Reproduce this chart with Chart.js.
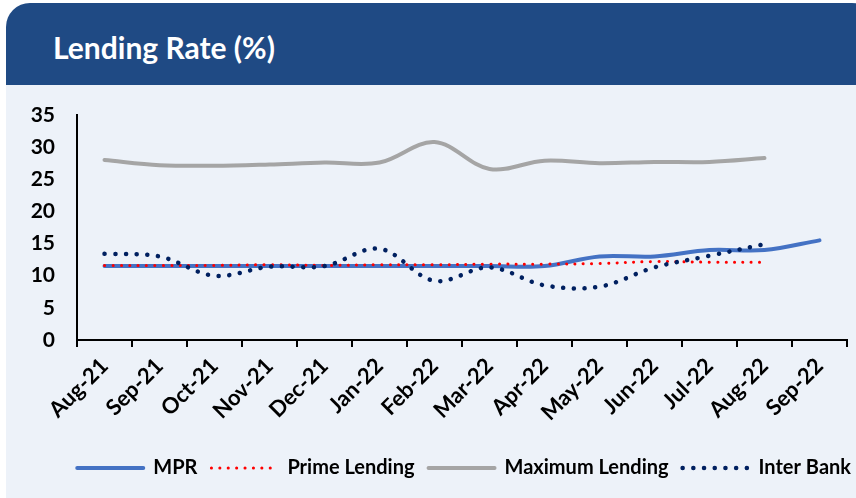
<!DOCTYPE html>
<html>
<head>
<meta charset="utf-8">
<title>Lending Rate (%)</title>
<script src="https://cdn.jsdelivr.net/npm/chart.js@4.4.0/dist/chart.umd.min.js"></script>
<style>
  html, body { margin: 0; padding: 0; background: #ffffff; }
  #wrap { position: relative; width: 856px; height: 498px; overflow: hidden; }
  #head { position: absolute; left: 6px; top: 3px; width: 870px; height: 82px; background: #1F4A84; border-radius: 24px 24px 0 0; }
  #head span { position: absolute; left: 47px; top: 26px; line-height: 30px; color: #ffffff; font: bold 30px Lato, sans-serif; white-space: nowrap; }
  #panel { position: absolute; left: 6px; top: 85px; width: 870px; height: 413px; background: #EDF2F9; }
  #chart { position: absolute; left: 0; top: 0; }
</style>
</head>
<body>
<div id="wrap">
  <div id="head"><span>Lending Rate (%)</span></div>
  <div id="panel"></div>
  <canvas id="chart" width="856" height="498"></canvas>
</div>
<script>
// months on the x axis
var months = ['Aug-21', 'Sep-21', 'Oct-21', 'Nov-21', 'Dec-21', 'Jan-22', 'Feb-22',
              'Mar-22', 'Apr-22', 'May-22', 'Jun-22', 'Jul-22', 'Aug-22', 'Sep-22'];

// rates in % (null = no value that month)
var mpr         = [11.5, 11.5, 11.5, 11.5, 11.5, 11.5, 11.5, 11.5, 11.5, 13.0, 13.0, 14.0, 14.0, 15.5];
var primeRate   = [11.6, 11.6, 11.6, 11.7, 11.6, 11.7, 11.7, 11.8, 11.8, 11.9, 12.2, 12.1, 12.1, null];
var maxLending  = [28.0, 27.2, 27.1, 27.3, 27.6, 27.6, 30.8, 26.6, 27.9, 27.5, 27.7, 27.7, 28.3, null];
var interBank   = [13.4, 13.0, 10.0, 11.4, 11.5, 14.2, 9.2, 11.3, 8.5, 8.3, 11.3, 13.1, 14.9, null];

var yTicks = [0, 5, 10, 15, 20, 25, 30, 35];

var FONT = 'Lato, sans-serif';

var ctx = document.getElementById('chart').getContext('2d');
var myChart = new Chart(ctx, {
  type: 'line',
  data: {
    labels: months,
    datasets: [{
      label: 'MPR',
      data: mpr,
      borderColor: '#4472C4',
      borderWidth: 4,
      borderCapStyle: 'round',
      order: 3
    }, {
      label: 'Prime Lending',
      data: primeRate,
      borderColor: '#FF0000',
      borderWidth: 3,
      borderDash: [0.1, 8.3],
      borderCapStyle: 'round',
      order: 2
    }, {
      label: 'Maximum Lending',
      data: maxLending,
      borderColor: '#A5A5A5',
      borderWidth: 4,
      borderCapStyle: 'round',
      order: 4
    }, {
      label: 'Inter Bank',
      data: interBank,
      borderColor: '#002060',
      borderWidth: 4.5,
      borderDash: [0.1, 10.6],
      borderCapStyle: 'round',
      order: 1
    }]
  },
  options: {
    responsive: false,
    animation: false,
    devicePixelRatio: 1,
    // negative right padding lets the legend run to the edge; the spacer axis pulls the plot back
    layout: { padding: { left: 0, right: -9, top: 115, bottom: 10 } },
    elements: {
      point: { radius: 0, hoverRadius: 0 },
      line: { tension: 0.35, fill: false }
    },
    scales: {
      x: {
        type: 'category',
        offset: true,
        grid: { display: true, drawOnChartArea: false, drawTicks: true, tickLength: 7, color: '#000000', lineWidth: 2, offset: true },
        border: { display: true, color: '#000000', width: 2 },
        ticks: { color: '#000000', font: { family: FONT, size: 22, weight: 'bold' }, minRotation: 45, maxRotation: 45, autoSkip: false, padding: 6 },
        afterFit: function(scale) { scale.height = 104; }
      },
      y: {
        min: 0,
        max: 35,
        afterBuildTicks: function(scale) { scale.ticks = yTicks.map(function(v) { return { value: v }; }); },
        grid: { display: false, drawTicks: false },
        border: { display: true, color: '#000000', width: 2 },
        ticks: { color: '#000000', font: { family: FONT, size: 21, weight: 'bold' }, padding: 22 },
        afterFit: function(scale) { scale.width = 77; }
      },
      spacer: {
        position: 'right',
        display: true,
        grid: { display: false, drawTicks: false },
        border: { display: false },
        ticks: { display: false },
        afterFit: function(scale) { scale.width = 18; }
      }
    },
    plugins: {
      tooltip: { enabled: false },
      legend: {
        position: 'bottom',
        align: 'end',
        labels: {
          color: '#000000',
          font: { family: FONT, size: 20, weight: 'bold' },
          usePointStyle: true,
          pointStyle: 'line',
          pointStyleWidth: 66,
          padding: 14,
          generateLabels: function(chart) {
            return chart.data.datasets.map(function(ds, i) {
              return {
                text: ds.label,
                fillStyle: ds.borderColor,
                strokeStyle: ds.borderColor,
                lineWidth: ds.borderWidth,
                lineDash: ds.borderDash || [],
                lineCap: 'round',
                pointStyle: 'line',
                hidden: false,
                datasetIndex: i
              };
            });
          }
        }
      }
    }
  }
});
</script>
</body>
</html>
